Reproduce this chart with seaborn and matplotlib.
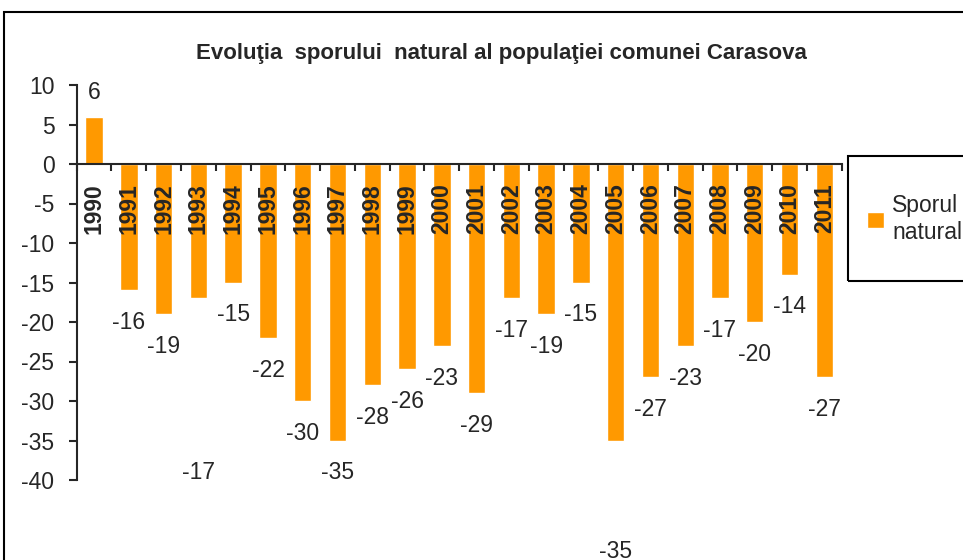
import numpy as np
import pandas as pd
import matplotlib
matplotlib.use('Agg')
import matplotlib.pyplot as plt
from matplotlib.patches import Rectangle, Patch
import seaborn as sns

years = ['1990', '1991', '1992', '1993', '1994', '1995', '1996', '1997',
         '1998', '1999', '2000', '2001', '2002', '2003', '2004', '2005',
         '2006', '2007', '2008', '2009', '2010', '2011']
sporul = [6, -16, -19, -17, -15, -22, -30, -35, -28, -26, -23, -29,
          -17, -19, -15, -35, -27, -23, -17, -20, -14, -27]
title = 'Evoluţia  sporului  natural al populaţiei comunei Carasova'
series_name = 'Sporul\nnatural'

df = pd.DataFrame({'an': years, 'sporul': sporul})

sns.set_style('white')
plt.rcParams['font.family'] = ['Liberation Sans', 'DejaVu Sans']
plt.rcParams['axes.unicode_minus'] = False

bar_color = '#FF9900'
W, H = 963, 560
fig = plt.figure(figsize=(W / 100, H / 100), dpi=100)

# chart area border (runs off the right and bottom edge)
fig.patches.append(Rectangle((4 / W, -0.1), 1.2, 1 - 12 / H + 0.1,
                             transform=fig.transFigure, fill=False,
                             edgecolor='black', linewidth=1.5))

ax = fig.add_axes([76.7 / W, 1 - 480 / H, (841.7 - 76.7) / W, (480 - 85) / H])
sns.barplot(data=df, x='an', y='sporul', color=bar_color, width=0.5,
            saturation=1, ax=ax, zorder=1)
ax.set_axisbelow(False)

ax.set_ylim(-40, 10)
ax.set_xlim(-0.5, len(years) - 0.5)
ax.set_yticks(np.arange(-40, 11, 5))
ax.set_xlabel('')
ax.set_ylabel('')

for s in ['top', 'right']:
    ax.spines[s].set_visible(False)
ax.spines['bottom'].set_position(('data', 0))
ax.spines['bottom'].set_linewidth(1.5)
ax.spines['left'].set_linewidth(1.5)

ax.tick_params(axis='y', direction='out', length=6, width=1.5, pad=10,
               labelsize=16.5, left=True)
ax.tick_params(axis='x', which='major', length=0, pad=14, labelsize=16.5,
               bottom=True)
ax.set_xticks(np.arange(-0.5, len(years), 1), minor=True)
ax.tick_params(axis='x', which='minor', direction='out', length=5, width=1.5,
               bottom=True)
for lbl in ax.get_xticklabels():
    lbl.set_rotation(90)
    lbl.set_fontweight('bold')

# data labels, a few were dragged away from the bar end
nudge = {'1993': -18, '2005': -10}
for i, (yr, v) in enumerate(zip(years, sporul)):
    y = v + 3.1 if v > 0 else v - 4.1
    y += nudge.get(yr, 0)
    ax.text(i, y, str(v), ha='center', va='center', fontsize=16.5,
            clip_on=False)

fig.text(501 / W, 1 - 53 / H, title, ha='center', va='center',
         fontsize=16, fontweight='bold')

# legend box
fig.patches.append(Rectangle((848 / W, 1 - 281 / H), 0.3, 125 / H,
                             transform=fig.transFigure, fill=False,
                             edgecolor='black', linewidth=1.5))
fig.legend(handles=[Patch(facecolor=bar_color, label=series_name)],
           loc='center left', bbox_to_anchor=(858 / W, 1 - 219 / H),
           frameon=False, fontsize=16.5, handlelength=0.75, handleheight=0.75,
           handletextpad=0.35, borderaxespad=0)

fig.savefig('out.png', dpi=100)
